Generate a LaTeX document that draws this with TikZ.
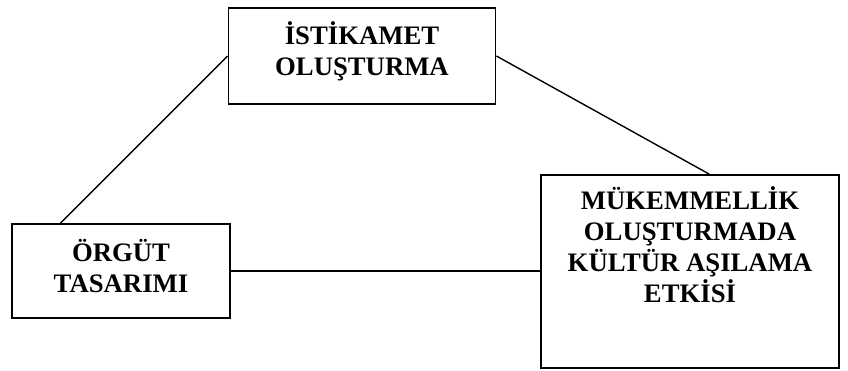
\documentclass[tikz,border=0pt]{standalone}
\usepackage{fontspec}
\setmainfont{Liberation Serif}
\usetikzlibrary{calc}
\definecolor{jet}{HTML}{000000}

\begin{document}
\begin{tikzpicture}[x=1bp, y=-1bp,
    every node/.style={font=\bfseries\fontsize{26.8}{31}\selectfont, color=jet, align=center},
    box/.style={draw=jet, line width=1.8bp, rectangle, inner sep=0pt},
    link/.style={draw=jet, line width=1.4bp}]
  \useasboundingbox (0,0) rectangle (848,370);
  \node[box, minimum width=267bp, minimum height=96bp] (yon) at (362,56) {};
  \node[box, minimum width=218bp, minimum height=94bp] (orgut) at (121,271) {};
  \node[box, minimum width=298bp, minimum height=193bp] (kultur) at (690,271.5) {};
  \node (yontxt) at ($(yon)+(0,-4.5)$) {İSTİKAMET\\OLUŞTURMA};
  \node (orguttxt) at ($(orgut)+(0,-5)$) {ÖRGÜT\\TASARIMI};
  \node[anchor=north] (kulturtxt) at ($(kultur.north)+(0,9)$) {MÜKEMMELLİK\\OLUŞTURMADA\\KÜLTÜR AŞILAMA\\ETKİSİ};
  \draw[link] (yon.west) -- ($(orgut.north west)!0.225!(orgut.north east)$);
  \draw[link] (yon.east) -- ($(kultur.north west)!0.564!(kultur.north east)$);
  \draw[link] (orgut.east) -- (orgut.east -| kultur.west);
\end{tikzpicture}
\end{document}
